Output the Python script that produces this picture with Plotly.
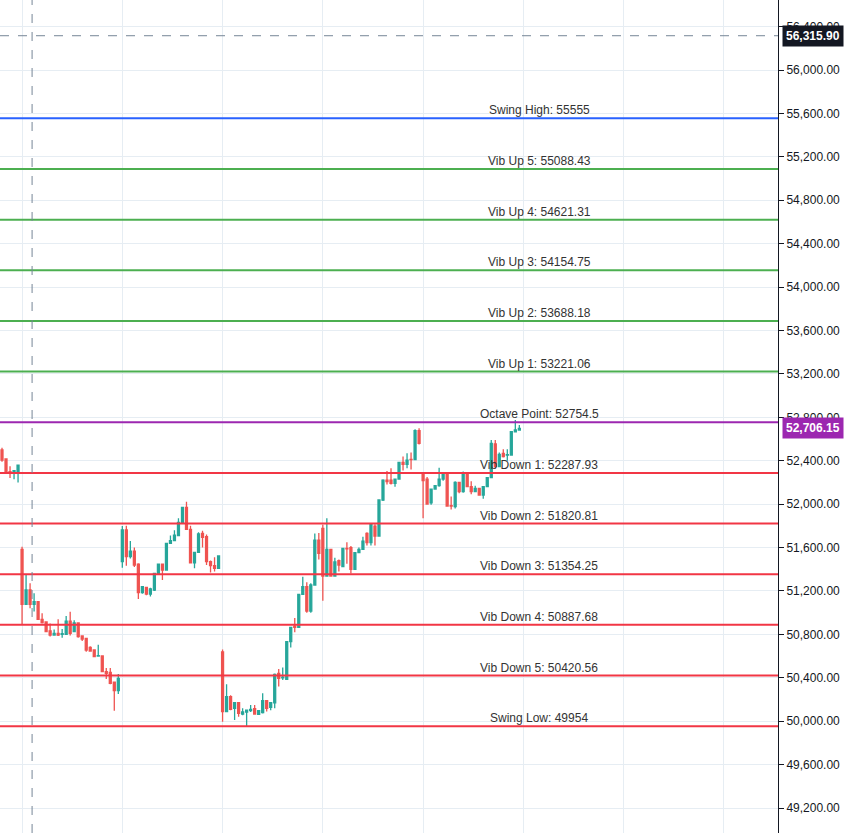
import plotly.graph_objects as go

opens = [52499,52416,52300,52284,52299,51583,51077,51209,51077,51101,50938,50914,50831,50794,50809,50800,50800,50923,50825,50905,50785,50763,50680,50656,50601,50601,50456,50450,50361,50281,
         51470,51762,51516,51568,51448,51184,51233,51172,51208,51362,51448,51393,51639,51663,51709,51832,51970,51768,51460,51556,51730,51700,51470,51433,51408,
         50638,50088,50226,50119,50171,50066,50085,50097,50115,50063,50079,50189,50128,50170,50441,50400,50386,50733,50877,50865,51169,51239,51015,51255,51669,51777,51337,51583,51337,51479,51424,51592,51598,51399,51553,51583,51731,51645,51798,51706,52038,52222,52222,52191,52231,52385,52366,52412,52410,52677,
         52274,52231,52013,52139,52170,52231,52277,51985,51977,52200,52115,52277,52161,52115,52145,52084,52161,52244,52554,52345,52468,52451,52453,52667,52683]
closes = [52406,52284,52290,52308,52360,51077,51209,51077,51101,50938,50908,50825,50794,50809,50794,50806,50923,50810,50905,50779,50757,50656,50647,50595,50603,50456,50441,50349,50281,50395,
          51762,51516,51568,51439,51184,51239,51172,51218,51362,51448,51393,51639,51663,51715,51832,51970,51768,51460,51556,51725,51694,51470,51433,51408,51522,
          50088,50226,50109,50171,50073,50085,50103,50109,50066,50097,50189,50119,50170,50432,50395,50405,50733,50865,50865,51169,51239,51015,51255,51669,51546,51337,51583,51337,51467,51439,51592,51588,51399,51553,51583,51660,51645,51814,51706,52038,52222,52207,52191,52231,52385,52366,52406,52410,52677,52560,
          52216,52001,52139,52170,52231,52277,51983,51983,52200,52115,52289,52161,52115,52145,52084,52161,52244,52560,52345,52459,52437,52455,52667,52683,52698]
highs = [52520,52420,52350,52310,52365,51608,51353,51270,51180,51105,50995,50920,50900,50845,50940,50850,50969,51008,50930,50910,50790,50770,50690,50660,50705,50605,50490,50490,50365,50435,
         51798,51800,51660,51600,51455,51240,51240,51230,51365,51450,51450,51640,51710,51760,51870,51970,52022,51800,51560,51740,51755,51720,51480,51510,51525,
         50660,50340,50240,50175,50175,50120,50105,50150,50150,50100,50257,50195,50175,50440,50480,50495,50735,50870,50950,51172,51330,51280,51270,51730,51735,51810,51869,51590,51505,51490,51595,51650,51615,51555,51600,51700,51740,51820,51815,52040,52230,52305,52330,52235,52390,52440,52470,52475,52690,52700,
         52290,52250,52140,52175,52335,52290,52280,52070,52210,52205,52300,52290,52210,52170,52150,52165,52250,52590,52590,52475,52505,52505,52675,52775,52730]
lows = [52390,52280,52240,52230,52200,50886,51070,51040,51010,50935,50900,50820,50780,50790,50785,50770,50795,50790,50820,50770,50740,50640,50640,50590,50595,50450,50390,50340,50097,50251,
        51415,51433,51500,51420,51126,51175,51160,51150,51200,51360,51300,51390,51635,51660,51705,51830,51765,51455,51410,51550,51600,51440,51370,51380,51405,
        49996,50085,50100,50011,50040,50055,49956,50085,50060,50060,50070,50090,50100,50120,50320,50380,50380,50680,50820,50860,51165,51000,51000,51250,51490,51110,51330,51330,51335,51380,51420,51450,51360,51395,51550,51580,51620,51620,51620,51700,52030,52180,52180,52160,52230,52310,52330,52320,52405,52550,
        51869,51995,51995,52135,52160,52215,51975,51950,51960,52100,52105,52155,52090,52110,52080,52050,52155,52240,52330,52340,52430,52400,52450,52660,52680]

level_names = ["Swing High: 55555","Vib Up 5: 55088.43","Vib Up 4: 54621.31","Vib Up 3: 54154.75",
               "Vib Up 2: 53688.18","Vib Up 1: 53221.06","Octave Point: 52754.5","Vib Down 1: 52287.93",
               "Vib Down 2: 51820.81","Vib Down 3: 51354.25","Vib Down 4: 50887.68","Vib Down 5: 50420.56",
               "Swing Low: 49954"]
level_values = [55555,55088.43,54621.31,54154.75,53688.18,53221.06,52754.5,52287.93,51820.81,51354.25,50887.68,50420.56,49954]
level_colors = ["#2962FF"] + ["#4CAF50"]*5 + ["#9C27B0"] + ["#F23645"]*6

y_ticks = list(range(49200, 56401, 400))
crosshair_price = 56315.90
last_price = 52706.15
crosshair_bar = 7.5

idx = list(range(len(opens)))

fig = go.Figure()
fig.add_trace(go.Candlestick(x=idx, open=opens, high=highs, low=lows, close=closes,
    increasing=dict(line=dict(color="#26A69A", width=1.3), fillcolor="#26A69A"),
    decreasing=dict(line=dict(color="#EF5350", width=1.3), fillcolor="#EF5350"),
    whiskerwidth=0, showlegend=False, hoverinfo="skip"))

for name, v, c in zip(level_names, level_values, level_colors):
    fig.add_hline(y=v, line=dict(color=c, width=2), layer="above")
    fig.add_annotation(x=134, y=v, text=name, showarrow=False, yanchor="bottom", yshift=-1,
                       font=dict(family="Liberation Sans, Arial", size=12, color="#333333"))

fig.add_hline(y=crosshair_price, line=dict(color="#758696", width=1, dash="dash"))
fig.add_vline(x=crosshair_bar, line=dict(color="#758696", width=1, dash="dash"))

for p, bg in [(crosshair_price, "#131722"), (last_price, "#9C27B0")]:
    fig.add_annotation(x=1, xref="paper", y=p, text=f"<b>{p:,.2f}</b>", showarrow=False,
                       xanchor="left", xshift=4, bgcolor=bg, borderpad=3,
                       font=dict(family="Liberation Sans, Arial", size=12, color="white"))

fig.update_layout(
    width=860, height=833, margin=dict(l=0, r=82, t=0, b=0, autoexpand=False),
    plot_bgcolor="white", paper_bgcolor="white",
    xaxis=dict(range=[-0.5, 193.5], tickvals=list(range(5, 200, 25)), showticklabels=False,
               showgrid=True, gridcolor="#E6EDF3", zeroline=False, rangeslider=dict(visible=False),
               automargin=False),
    yaxis=dict(range=[48970, 56645], side="right", tickvals=y_ticks, tickformat=",.2f",
               showgrid=True, gridcolor="#E6EDF3", zeroline=False, showline=True, linecolor="#131722",
               ticks="outside", ticklen=5, tickcolor="#131722", automargin=False,
               tickfont=dict(family="Liberation Sans, Arial", size=12, color="#131722")),
)
fig.write_html("out.html", config={"displayModeBar": False},
               post_script="document.body.style.margin='0';document.body.style.overflow='hidden';")
